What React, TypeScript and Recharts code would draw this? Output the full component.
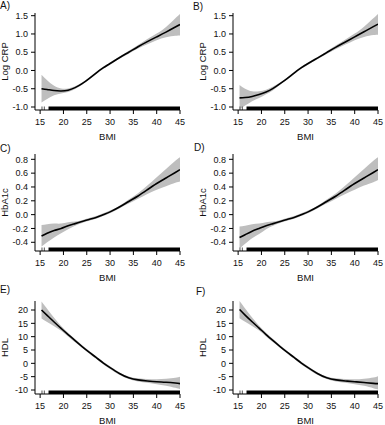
import React from "react";
import {
    ComposedChart,
    Area,
    Line,
    XAxis,
    YAxis,
    ReferenceArea,
    ReferenceLine
} from "recharts";

// BMI grid shared by every panel
const bmi = [15.3, 16.5, 18, 19.5, 21, 22.5, 24, 25.5, 27, 28.5, 30, 32, 34, 36, 38, 40, 42, 44, 45];

// A) Log CRP
const crpFitA = [-0.5, -0.52, -0.55, -0.56, -0.54, -0.47, -0.36, -0.22, -0.07, 0.07, 0.19, 0.35, 0.5, 0.65, 0.79, 0.92, 1.05, 1.19, 1.26];
const crpLowA = [-0.88, -0.78, -0.68, -0.63, -0.59, -0.51, -0.39, -0.25, -0.1, 0.04, 0.16, 0.32, 0.46, 0.6, 0.72, 0.83, 0.91, 0.95, 0.96];
const crpHighA = [-0.12, -0.27, -0.42, -0.49, -0.49, -0.43, -0.33, -0.19, -0.04, 0.1, 0.22, 0.38, 0.54, 0.7, 0.86, 1.01, 1.19, 1.43, 1.55];

// B) Log CRP
const crpFitB = [-0.75, -0.74, -0.71, -0.66, -0.59, -0.49, -0.36, -0.22, -0.07, 0.07, 0.19, 0.34, 0.49, 0.64, 0.78, 0.92, 1.06, 1.2, 1.27];
const crpLowB = [-1.06, -0.96, -0.84, -0.75, -0.65, -0.54, -0.39, -0.25, -0.1, 0.04, 0.16, 0.31, 0.45, 0.59, 0.71, 0.83, 0.92, 0.97, 0.98];
const crpHighB = [-0.4, -0.5, -0.57, -0.57, -0.53, -0.44, -0.33, -0.19, -0.04, 0.1, 0.22, 0.37, 0.53, 0.69, 0.85, 1.01, 1.2, 1.43, 1.55];

// C) HbA1c
const hbFitC = [-0.31, -0.27, -0.23, -0.2, -0.16, -0.13, -0.1, -0.07, -0.04, 0.0, 0.04, 0.11, 0.19, 0.27, 0.36, 0.45, 0.53, 0.61, 0.65];
const hbLowC = [-0.46, -0.4, -0.33, -0.27, -0.21, -0.16, -0.12, -0.09, -0.06, -0.02, 0.02, 0.09, 0.16, 0.23, 0.3, 0.36, 0.41, 0.46, 0.48];
const hbHighC = [-0.15, -0.14, -0.13, -0.13, -0.11, -0.1, -0.08, -0.05, -0.02, 0.02, 0.06, 0.13, 0.22, 0.31, 0.42, 0.54, 0.66, 0.78, 0.83];

// D) HbA1c
const hbFitD = [-0.33, -0.29, -0.24, -0.2, -0.16, -0.13, -0.1, -0.07, -0.04, 0.0, 0.04, 0.11, 0.19, 0.27, 0.36, 0.45, 0.53, 0.61, 0.65];
const hbLowD = [-0.49, -0.42, -0.34, -0.28, -0.21, -0.16, -0.12, -0.09, -0.06, -0.02, 0.02, 0.09, 0.16, 0.23, 0.3, 0.36, 0.42, 0.47, 0.5];
const hbHighD = [-0.17, -0.16, -0.14, -0.13, -0.11, -0.1, -0.08, -0.05, -0.02, 0.02, 0.06, 0.13, 0.22, 0.31, 0.42, 0.54, 0.66, 0.78, 0.83];

// E) HDL
const hdlFitE = [20.0, 18.0, 15.5, 13.1, 10.8, 8.5, 6.3, 4.2, 2.2, 0.2, -1.6, -3.8, -5.4, -6.2, -6.6, -6.9, -7.1, -7.4, -7.6];
const hdlLowE = [16.8, 15.5, 13.9, 12.2, 10.1, 7.9, 5.8, 3.7, 1.7, -0.3, -2.1, -4.3, -5.9, -6.8, -7.3, -7.8, -8.4, -9.2, -9.7];
const hdlHighE = [23.2, 20.5, 17.1, 14.0, 11.5, 9.1, 6.8, 4.7, 2.7, 0.7, -1.1, -3.3, -4.9, -5.6, -5.9, -6.0, -5.8, -5.4, -5.0];

// F) HDL
const hdlFitF = [20.2, 18.1, 15.6, 13.2, 10.8, 8.5, 6.3, 4.2, 2.2, 0.2, -1.6, -3.8, -5.4, -6.2, -6.6, -6.9, -7.2, -7.5, -7.6];
const hdlLowF = [16.9, 15.6, 14.0, 12.3, 10.1, 7.9, 5.8, 3.7, 1.7, -0.3, -2.1, -4.3, -5.9, -6.8, -7.3, -7.8, -8.4, -9.3, -9.8];
const hdlHighF = [23.4, 20.6, 17.2, 14.1, 11.5, 9.1, 6.8, 4.7, 2.7, 0.7, -1.1, -3.3, -4.9, -5.6, -5.9, -6.0, -5.8, -5.3, -4.8];

const bmiTicks = [15, 20, 25, 30, 35, 40, 45];
const crpTicks = [-1.0, -0.5, 0.0, 0.5, 1.0, 1.5];
const hbTicks = [-0.4, -0.2, 0.0, 0.2, 0.4, 0.6, 0.8];
const hdlTicks = [-10, -5, 0, 5, 10, 15, 20];

// rug of observed BMI values
const rugStart = 16.8;
const rugEnd = 45;
const rugSingles = [15.4, 15.9];

const font = "'Liberation Sans', Arial, sans-serif";

interface PanelProps {
    letter: string;
    yLabel: string;
    fit: number[];
    low: number[];
    high: number[];
    yTicks: number[];
    yDomain: [number, number];
    decimals: number;
    left: number;
    plotTop: number;
    plotH: number;
    letterLeft: number;
    letterTop: number;
}

function Panel({ letter, yLabel, fit, low, high, yTicks, yDomain, decimals, left, plotTop, plotH, letterLeft, letterTop }: PanelProps) {
    const rows = bmi.map((b, i) => ({ bmi: b, fit: fit[i], lo: low[i], hi: high[i] }));
    const rugH = ((yDomain[1] - yDomain[0]) * 3.5) / plotH;
    const y0 = yDomain[0];
    return (
        <>
            <div
                style={{
                    position: "absolute",
                    left: letterLeft,
                    top: letterTop,
                    fontFamily: font,
                    fontSize: 10,
                    lineHeight: "11px",
                    color: "#111"
                }}
            >
                {letter}
            </div>
            <div style={{ position: "absolute", left, top: plotTop - 10 }}>
                <ComposedChart
                    width={190}
                    height={plotH + 42}
                    data={rows}
                    margin={{ top: 10, right: 10, bottom: 0, left: 0 }}
                >
                    <XAxis
                        type="number"
                        dataKey="bmi"
                        domain={[13.9, 45]}
                        ticks={bmiTicks}
                        interval={0}
                        allowDataOverflow
                        height={32}
                        tickSize={4}
                        tickMargin={5}
                        axisLine={{ stroke: "#000" }}
                        tickLine={{ stroke: "#000" }}
                        tick={{ fontSize: 9, fill: "#111", fontFamily: font }}
                        label={{ value: "BMI", position: "insideBottom", offset: 2, fontSize: 9.5, fill: "#111", fontFamily: font }}
                    />
                    <YAxis
                        type="number"
                        domain={yDomain}
                        ticks={yTicks}
                        interval={0}
                        allowDataOverflow
                        width={35}
                        tickSize={4}
                        tickMargin={3}
                        tickFormatter={(v: number) => v.toFixed(decimals)}
                        axisLine={{ stroke: "#000" }}
                        tickLine={{ stroke: "#000" }}
                        tick={{ fontSize: 9, fill: "#111", fontFamily: font }}
                        label={{
                            value: yLabel,
                            angle: -90,
                            position: "insideLeft",
                            offset: 5,
                            fontSize: 9.5,
                            fill: "#111",
                            fontFamily: font,
                            style: { textAnchor: "middle" }
                        }}
                    />
                    <Area
                        type="natural"
                        dataKey={(d: any) => [d.lo, d.hi]}
                        stroke="none"
                        fill="#bebebe"
                        fillOpacity={1}
                        isAnimationActive={false}
                    />
                    <Line
                        type="natural"
                        dataKey="fit"
                        stroke="#000"
                        strokeWidth={1.6}
                        dot={false}
                        isAnimationActive={false}
                    />
                    <ReferenceArea x1={rugStart} x2={rugEnd} y1={y0} y2={y0 + rugH} fill="#000" fillOpacity={1} stroke="none" />
                    {rugSingles.map((r) => (
                        <ReferenceLine
                            key={r}
                            segment={[{ x: r, y: y0 }, { x: r, y: y0 + rugH }]}
                            stroke="#555"
                            strokeWidth={1}
                        />
                    ))}
                </ComposedChart>
            </div>
        </>
    );
}

export default function App() {
    return (
        <div style={{ position: "absolute", left: 0, top: 0, width: 385, height: 425, background: "#fff" }}>
            <Panel letter="A)" yLabel="Log CRP" fit={crpFitA} low={crpLowA} high={crpHighA} yTicks={crpTicks} yDomain={[-1.082, 1.574]} decimals={1} left={0} plotTop={13} plotH={97} letterLeft={0} letterTop={0} />
            <Panel letter="B)" yLabel="Log CRP" fit={crpFitB} low={crpLowB} high={crpHighB} yTicks={crpTicks} yDomain={[-1.082, 1.574]} decimals={1} left={198} plotTop={13} plotH={97} letterLeft={193} letterTop={1} />
            <Panel letter="C)" yLabel="HbA1c" fit={hbFitC} low={hbLowC} high={hbHighC} yTicks={hbTicks} yDomain={[-0.526, 0.877]} decimals={1} left={0} plotTop={154} plotH={97} letterLeft={0} letterTop={143} />
            <Panel letter="D)" yLabel="HbA1c" fit={hbFitD} low={hbLowD} high={hbHighD} yTicks={hbTicks} yDomain={[-0.526, 0.877]} decimals={1} left={198} plotTop={154} plotH={97} letterLeft={194} letterTop={142} />
            <Panel letter="E)" yLabel="HDL" fit={hdlFitE} low={hdlLowE} high={hdlHighE} yTicks={hdlTicks} yDomain={[-11.5, 23.375]} decimals={0} left={0} plotTop={301} plotH={93} letterLeft={0} letterTop={284} />
            <Panel letter="F)" yLabel="HDL" fit={hdlFitF} low={hdlLowF} high={hdlHighF} yTicks={hdlTicks} yDomain={[-11.5, 23.375]} decimals={0} left={198} plotTop={301} plotH={93} letterLeft={196} letterTop={286} />
        </div>
    );
}
